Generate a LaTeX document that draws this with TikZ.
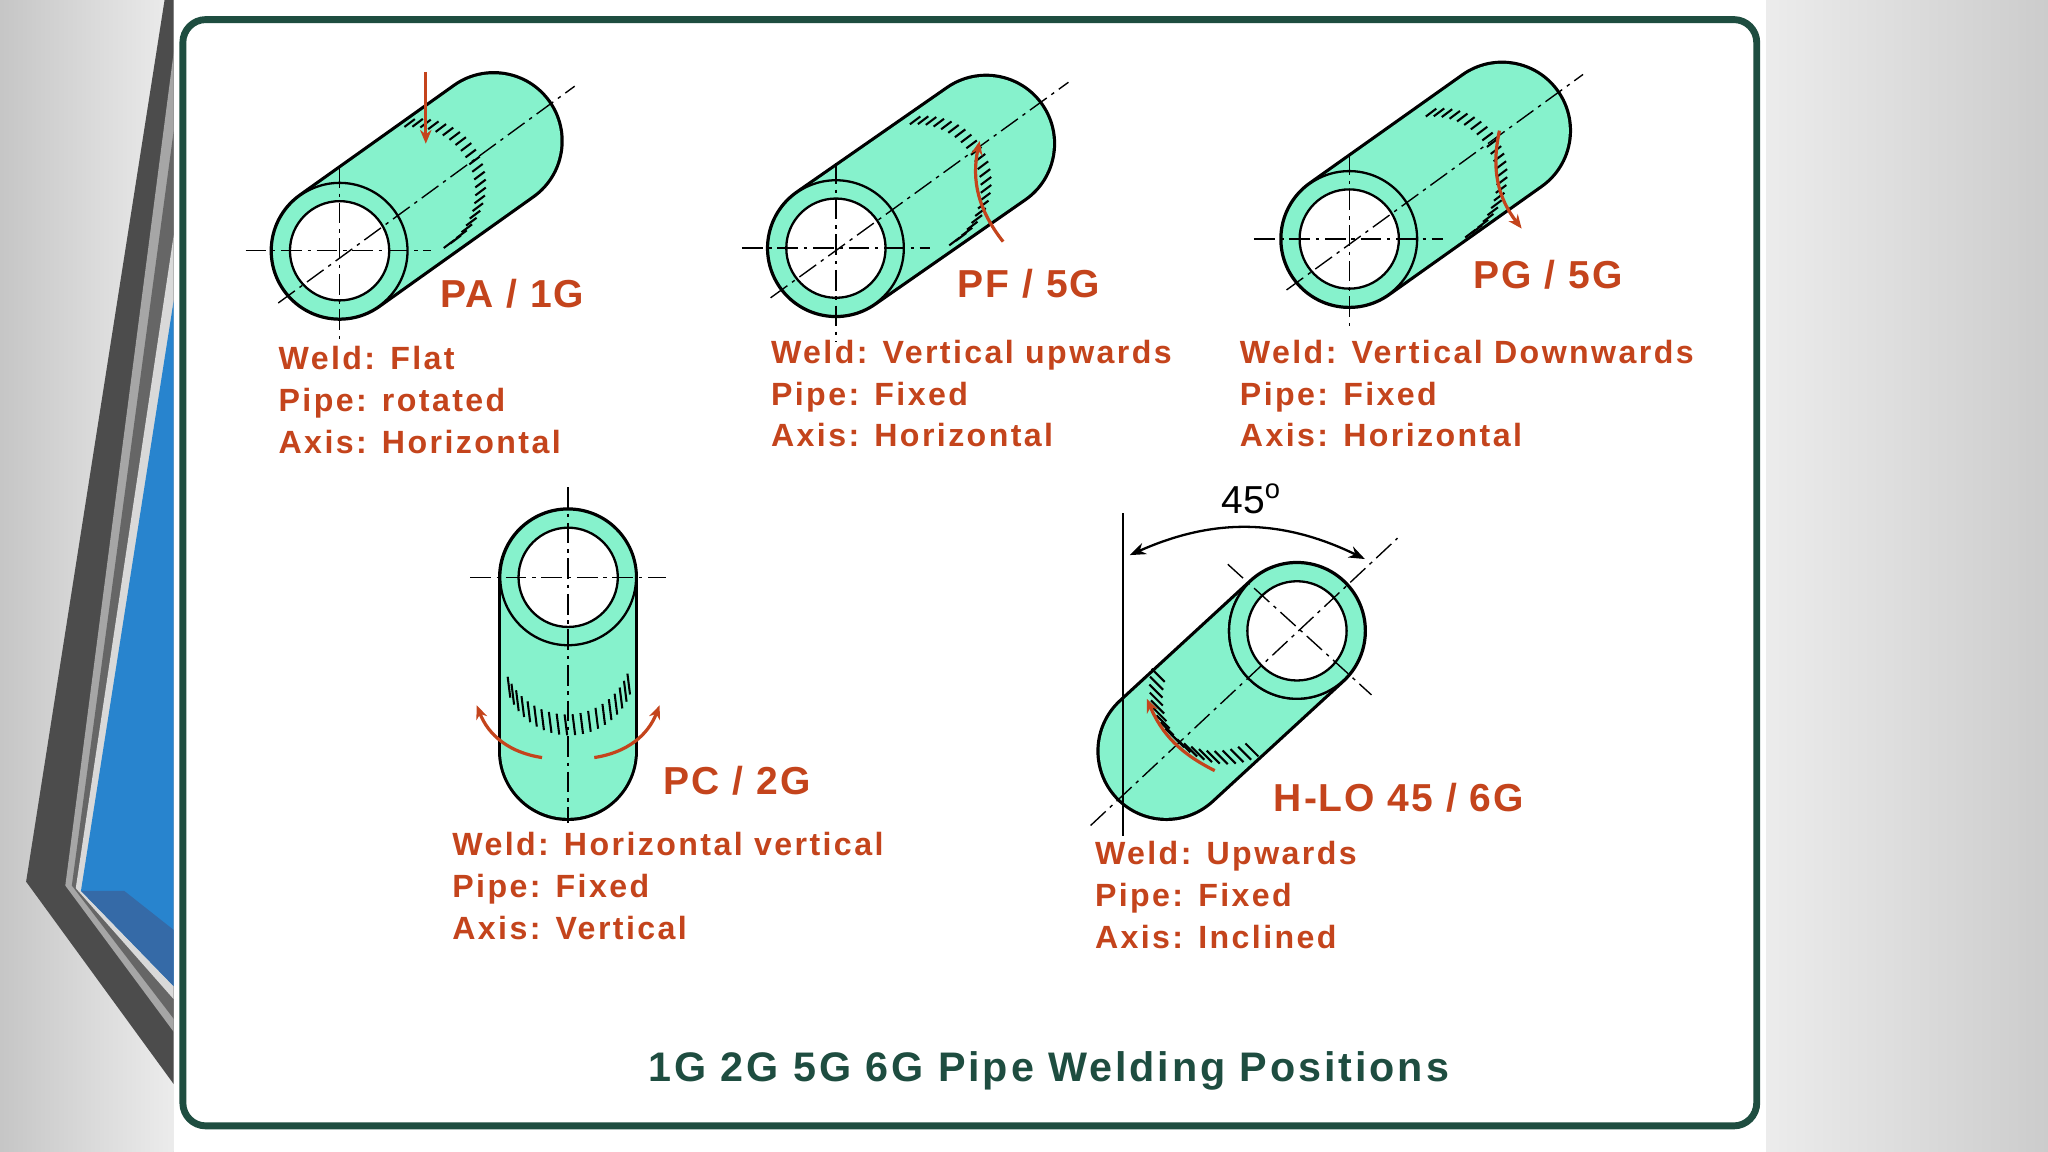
\documentclass[tikz,border=0pt]{standalone}
\usepackage{fontspec}
\setmainfont{Liberation Sans}
\usetikzlibrary{arrows.meta,calc}
\definecolor{pg}{HTML}{86F2CC}
\definecolor{rd}{HTML}{C4441C}
\definecolor{dg}{HTML}{1E4D40}
\tikzset{
 cl/.style={black,line width=0.6pt,dash pattern=on 9pt off 2.5pt on 1.5pt off 2.5pt},
 ra/.style={rd,line width=1.4pt,-{Stealth[length=6pt,width=5pt]}},
 lbl/.style={rd,font=\fontsize{17}{20}\selectfont\bfseries\addfontfeatures{LetterSpace=5},inner sep=0pt,anchor=west},
 txt/.style={rd,font=\fontsize{14}{18.2}\selectfont\bfseries\addfontfeatures{LetterSpace=7.5},inner sep=0pt,anchor=north west,align=left},
}
\newcommand\mypipe[2]{%
 \draw[line width=61pt,line cap=round,black] #1 -- #2;
 \draw[line width=58.2pt,line cap=round,pg] #1 -- #2;
 \draw[fill=pg,line width=1pt] #1 circle (52);
 \draw[fill=white,line width=1pt] #1 circle (38);}
\newcommand\myseam[4]{%
 \foreach \a in {#2,#3,...,#4}{\draw[line width=0.9pt] ($#1+(\a:50)$) ++(-4,3) -- ++(8,-6);}}
\begin{document}
\begin{tikzpicture}[x=0.02cm,y=-0.02cm]
\useasboundingbox (0,0) rectangle (1568,882);
\fill[gray!25] (0,0) rectangle (1568,882);
\shade[left color=gray!45,right color=gray!15] (0,0) rectangle (133,882);
\shade[left color=gray!15,right color=gray!40] (1352,0) rectangle (1568,882);
\fill[white] (133,0) rectangle (1352,882);
\fill[black!70] (133,0) -- (126,0) -- (20,675) -- (133,830) -- cycle;
\fill[gray!70] (133,40) -- (50,678) -- (133,790) -- cycle;
\fill[black!60] (133,100) -- (55,678) -- (133,780) -- cycle;
\fill[white!70!gray] (133,180) -- (58,680) -- (133,765) -- cycle;
\fill[cyan!60!blue!90] (133,230) -- (62,682) -- (133,755) -- cycle;
\fill[cyan!50!blue!80!black] (62,682) -- (133,755) -- (133,712) -- (95,682) -- cycle;
\draw[dg,line width=3pt,rounded corners=10pt] (140,15) rectangle (1345,862);

% PA
\mypipe{(260,192)}{(378,108)}
\myseam{(318,144)}{-95}{-88}{60}
\draw[cl] (213,232) -- (440,66);
\draw[cl] (188,192) -- (330,192);
\draw[cl] (260,128) -- (260,262);
\draw[ra] (326,55) -- (326,110);
\node[lbl] (pa) at (337,225) {PA / 1G};
\node[txt] (pat) at (213,265) {Weld: Flat\\Pipe: rotated\\Axis: Horizontal};

% PF
\mypipe{(640,190)}{(755,110)}
\myseam{(705,142)}{-95}{-88}{60}
\draw[cl] (590,228) -- (818,63);
\draw[cl] (568,190) -- (712,190);
\draw[cl] (640,125) -- (640,262);
\draw[ra] (768,185) to[bend left=25] (750,108);
\node[lbl] (pf) at (733,217) {PF / 5G};
\node[txt] (pft) at (590,260) {Weld: Vertical upwards\\Pipe: Fixed\\Axis: Horizontal};

% PG
\mypipe{(1033,183)}{(1150,100)}
\myseam{(1100,136)}{-95}{-88}{60}
\draw[cl] (985,222) -- (1212,57);
\draw[cl] (960,183) -- (1105,183);
\draw[cl] (1033,118) -- (1033,250);
\draw[ra] (1148,100) to[bend right=25] (1165,175);
\node[lbl] (pgl) at (1128,210) {PG / 5G};
\node[txt] (pgt) at (949,260) {Weld: Vertical Downwards\\Pipe: Fixed\\Axis: Horizontal};

% PC
\draw[line width=61pt,line cap=round,black] (435,442) -- (435,575);
\draw[line width=58.2pt,line cap=round,pg] (435,442) -- (435,575);
\draw[fill=pg,line width=1pt] (435,442) circle (52);
\draw[fill=white,line width=1pt] (435,442) circle (38);
\foreach \a in {22,29,...,158}{\draw[line width=0.9pt] ($(435,505)+(\a:50)$) ++(-1,-8) -- ++(2,16);}
\draw[cl] (435,373) -- (435,630);
\draw[cl] (360,442) -- (510,442);
\draw[ra] (415,580) to[bend left=30] (365,540);
\draw[ra] (455,580) to[bend right=30] (505,540);
\node[lbl] (pc) at (508,598) {PC / 2G};
\node[txt] (pct) at (346,637) {Weld: Horizontal vertical\\Pipe: Fixed\\Axis: Vertical};

% H-LO
\mypipe{(993,483)}{(893,575)}
\draw[fill=pg,line width=1pt] (993,483) circle (52);
\draw[fill=white,line width=1pt] (993,483) circle (38);
\foreach \a in {62,69,...,200}{\draw[line width=0.9pt] ($(935,530)+(\a:50)$) ++(-5,-5) -- ++(10,10);}
\draw[cl] (835,632) -- (1070,412);
\draw[cl] (940,432) -- (1050,532);
\draw[line width=1pt] (860,393) -- (860,640);
\draw[ra] (930,590) to[bend left=20] (878,535);
\draw[black,line width=1pt,{Stealth[length=7pt]}-{Stealth[length=7pt]}] (865,425) to[bend left=25] (1045,428);
\node[black,font=\fontsize{17}{20}\selectfont] (ang) at (958,382) {45$^{\mathrm{o}}$};
\node[lbl] (hl) at (975,611) {H-LO 45 / 6G};
\node[txt] (hlt) at (838,644) {Weld: Upwards\\Pipe: Fixed\\Axis: Inclined};

\node[dg,font=\fontsize{18}{20}\selectfont\bfseries\addfontfeatures{LetterSpace=7}] (title) at (803,820) {1G 2G 5G 6G Pipe Welding Positions};
\end{tikzpicture}
\end{document}
